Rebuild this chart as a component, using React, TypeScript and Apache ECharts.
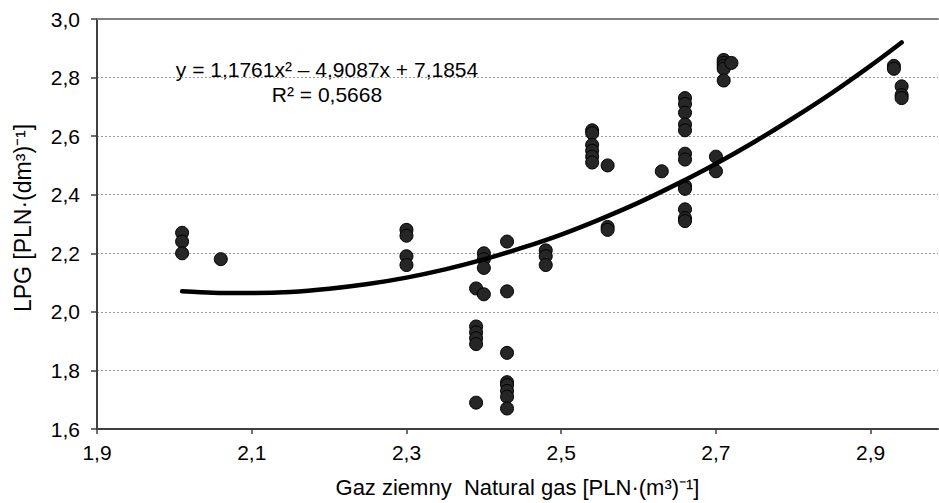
import React, { useEffect, useRef } from "react";
import * as echarts from "echarts";

// Natural gas price (x) and LPG price (y)
const gasPrices = [
  2.01, 2.01, 2.01,
  2.06,
  2.30, 2.30, 2.30, 2.30,
  2.39, 2.39, 2.39, 2.39, 2.39, 2.39,
  2.40, 2.40, 2.40, 2.40,
  2.43, 2.43, 2.43, 2.43, 2.43, 2.43, 2.43, 2.43,
  2.48, 2.48, 2.48,
  2.54, 2.54, 2.54, 2.54, 2.54, 2.54,
  2.56, 2.56, 2.56,
  2.63,
  2.66, 2.66, 2.66, 2.66, 2.66, 2.66, 2.66, 2.66, 2.66, 2.66, 2.66, 2.66,
  2.70, 2.70,
  2.71, 2.71, 2.71, 2.71, 2.71,
  2.72,
  2.93, 2.93,
  2.94, 2.94, 2.94,
];
const lpgPrices = [
  2.27, 2.24, 2.20,
  2.18,
  2.28, 2.26, 2.19, 2.16,
  2.08, 1.95, 1.93, 1.91, 1.89, 1.69,
  2.20, 2.18, 2.15, 2.06,
  2.24, 2.07, 1.86, 1.76, 1.75, 1.73, 1.71, 1.67,
  2.21, 2.19, 2.16,
  2.62, 2.61, 2.57, 2.55, 2.53, 2.51,
  2.50, 2.29, 2.28,
  2.48,
  2.73, 2.71, 2.68, 2.64, 2.62, 2.54, 2.52, 2.43, 2.42, 2.35, 2.32, 2.31,
  2.53, 2.48,
  2.86, 2.85, 2.84, 2.83, 2.79,
  2.85,
  2.84, 2.83,
  2.77, 2.74, 2.73,
];

// Trend line points
const trendX = [2.01, 2.05, 2.1, 2.15, 2.2, 2.25, 2.3, 2.35, 2.4, 2.45, 2.5, 2.55, 2.6, 2.65, 2.7, 2.75, 2.8, 2.85, 2.9, 2.94];
const trendY = [2.070, 2.065, 2.064, 2.068, 2.079, 2.095, 2.117, 2.145, 2.179, 2.219, 2.264, 2.316, 2.373, 2.437, 2.506, 2.581, 2.662, 2.748, 2.841, 2.920];

const equationText = "y = 1,1761x² – 4,9087x + 7,1854";
const r2Text = "R² = 0,5668";
const xTickValues = [1.9, 2.1, 2.3, 2.5, 2.7, 2.9];
const xAxisTitle = "Gaz ziemny  Natural gas [PLN·(m³)⁻¹]";
const yAxisTitle = "LPG [PLN·(dm³)⁻¹]";

const FONT = "'Liberation Sans', Arial, sans-serif";
const fmt = (v: number) => v.toFixed(1).replace(".", ",");

export default function App() {
  const ref = useRef<HTMLDivElement>(null);
  useEffect(() => {
    if (!ref.current) return;
    const chart = echarts.init(ref.current, undefined, { renderer: "svg" });
    const points = gasPrices.map((x, i) => [x, lpgPrices[i]]);
    const trend = trendX.map((x, i) => [x, trendY[i]]);
    chart.setOption({
      animation: false,
      backgroundColor: "#ffffff",
      grid: { left: 97, right: 1, top: 19, bottom: 70, containLabel: false },
      xAxis: [
        {
          type: "value",
          min: 1.9,
          max: 2.987,
          interval: 0.2,
          position: "bottom",
          axisLine: { show: true, lineStyle: { color: "#404040", width: 2 } },
          axisTick: { show: true, length: 5, inside: false, customValues: xTickValues, lineStyle: { color: "#404040", width: 1.5 } },
          axisLabel: { customValues: xTickValues, formatter: fmt, color: "#000", fontSize: 21, fontFamily: FONT, margin: 13 },
          splitLine: { show: false },
          name: xAxisTitle,
          nameLocation: "middle",
          nameGap: 47,
          nameTextStyle: { color: "#000", fontSize: 22, fontFamily: FONT },
        },
        {
          type: "value",
          min: 1.9,
          max: 2.987,
          position: "top",
          axisLine: { show: true, onZero: false, lineStyle: { color: "#808080", width: 2 } },
          axisTick: { show: false },
          axisLabel: { show: false },
          splitLine: { show: false },
        },
      ],
      yAxis: {
        type: "value",
        min: 1.6,
        max: 3.0,
        interval: 0.2,
        axisLine: { show: true, onZero: false, lineStyle: { color: "#404040", width: 2 } },
        axisTick: { show: true, length: 6, inside: false, lineStyle: { color: "#404040", width: 1.5 } },
        axisLabel: { formatter: fmt, color: "#000", fontSize: 21, fontFamily: FONT, margin: 17 },
        splitLine: { show: true, lineStyle: { color: "#9a9a9a", width: 1, type: [2, 2] } },
        name: yAxisTitle,
        nameLocation: "middle",
        nameGap: 63,
        nameTextStyle: { color: "#000", fontSize: 23, fontFamily: FONT, padding: [0, 0, 0, 12] },
      },
      series: [
        {
          type: "scatter",
          data: points,
          symbol: "circle",
          symbolSize: 13,
          itemStyle: { color: "#262626", borderColor: "#000", borderWidth: 1, opacity: 1 },
          z: 2,
        },
        {
          type: "line",
          data: trend,
          smooth: 0.3,
          showSymbol: false,
          symbol: "none",
          lineStyle: { color: "#000", width: 4.5, cap: "round" },
          z: 3,
        },
      ],
      graphic: [
        {
          type: "text",
          style: { text: equationText, x: 327, y: 69, align: "center", verticalAlign: "middle", fontSize: 21, fontFamily: FONT, fill: "#000" },
        },
        {
          type: "text",
          style: { text: r2Text, x: 327, y: 94, align: "center", verticalAlign: "middle", fontSize: 21, fontFamily: FONT, fill: "#000" },
        },
      ],
    });
    return () => chart.dispose();
  }, []);
  return <div ref={ref} style={{ position: "absolute", left: 0, top: 0, width: 939, height: 503 }} />;
}
